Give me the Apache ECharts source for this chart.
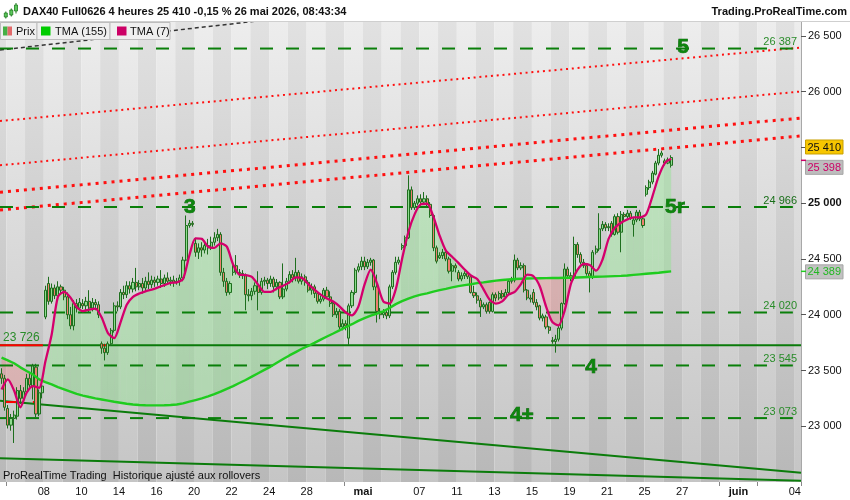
<!DOCTYPE html>
<html><head><meta charset="utf-8">
<script src="https://cdn.jsdelivr.net/npm/echarts@6/dist/echarts.min.js"></script>
<style>html,body{margin:0;padding:0;background:#fff}#c{width:850px;height:500px}</style>
</head><body><div id="c"></div>
<script>
// ---------- DATA ----------
const leadBars = 2;          // partial session before the first full day
const barsPerDay = 6;        // 4-hour bars per trading day
const totalSlots = 256;      // visible category slots on the time axis
const days = ['2 avr','7 avr','8 avr','9 avr','10 avr','13 avr','14 avr','15 avr','16 avr','17 avr','20 avr','21 avr','22 avr','23 avr','24 avr','27 avr','28 avr','29 avr','30 avr','4 mai','5 mai','6 mai','7 mai','8 mai','11 mai','12 mai','13 mai','14 mai','15 mai','18 mai','19 mai','20 mai','21 mai','22 mai','25 mai','26 mai','27 mai','28 mai','29 mai','1 juin','2 juin','3 juin','4 juin'];
const dayTickLabels = ['','','08','','10','','14','','16','','20','','22','','24','','28','','','mai','','','07','','11','','13','','15','','19','','21','','25','','27','','','juin','','','04'];
const boldTickLabels = ['mai','juin'];
const tickDays = ['2 avr','30 avr','29 mai','2 juin'];

// candles: [open, close, low, high]
const ohlc = [
[23470,23430,23380,23520],[23430,23170,23140,23460],
[23160,23010,22980,23190],[23010,23070,22960,23110],[23070,23100,22850,23140],[23090,23320,23060,23350],[23320,23250,23200,23370],[23250,23310,23230,23350],
[23310,23430,23290,23470],[23430,23370,23330,23480],[23360,23540,23240,23560],[23530,23110,23080,23560],[23110,23300,23090,23330],[23300,23360,23250,23420],
[23980,24220,23960,24260],[24280,24120,24090,24340],[24120,24240,24100,24280],[24240,24170,24140,24270],[24170,24250,24150,24300],[24250,24220,24180,24270],
[24220,24160,24130,24250],[24160,24000,23960,24200],[24000,23900,23870,24070],[23900,24100,23860,24130],[24100,24060,24020,24140],[24060,24110,24040,24150],
[24100,24080,24050,24140],[24080,24120,24030,24160],[24120,24060,24020,24220],[24060,24110,24030,24150],[24110,24090,24040,24140],[24090,24000,23970,24120],
[23740,23700,23650,23760],[23700,23660,23590,23740],[23660,23740,23640,23760],[23740,23860,23720,23880],[23860,24080,23840,24110],[24080,24070,24030,24120],
[24070,24200,24050,24230],[24200,24180,24140,24260],[24180,24260,24150,24300],[24260,24230,24190,24300],[24230,24290,24200,24330],[24290,24250,24210,24420],
[24250,24280,24220,24310],[24280,24240,24190,24330],[24240,24300,24210,24340],[24300,24270,24230,24380],[24270,24310,24240,24350],[24310,24290,24250,24340],
[24290,24320,24260,24350],[24320,24280,24240,24400],[24280,24330,24250,24360],[24330,24300,24270,24380],[24300,24310,24260,24340],[24310,24290,24250,24350],
[24290,24300,24270,24330],[24300,24330,24260,24360],[24330,24490,24300,24520],[24490,24800,24480,24890],[24800,24820,24780,24850],[24820,24810,24790,24840],
[24640,24560,24520,24690],[24560,24600,24500,24640],[24600,24580,24520,24650],[24580,24620,24550,24660],[24620,24600,24540,24680],[24600,24650,24580,24700],
[24650,24690,24620,24740],[24690,24720,24660,24770],[24720,24380,24350,24740],[24380,24300,24250,24420],[24300,24200,24170,24330],[24200,24280,24180,24300],
[24380,24440,24350,24470],[24440,24380,24360,24535],[24380,24370,24330,24410],[24370,24350,24320,24400],[24350,24180,24040,24370],[24180,24170,24120,24230],
[24170,24210,24130,24240],[24210,24260,24180,24290],[24260,24200,24040,24390],[24200,24300,24180,24330],[24300,24310,24260,24340],[24310,24280,24230,24330],
[24280,24320,24250,24350],[24320,24250,24200,24340],[24250,24290,24220,24320],[24290,24160,24140,24300],[24160,24230,24140,24460],[24230,24300,24210,24330],
[24300,24360,24280,24390],[24360,24330,24290,24400],[24330,24380,24300,24510],[24380,24300,24280,24400],[24300,24340,24270,24370],[24340,24290,24260,24360],
[24290,24220,24200,24310],[24220,24250,24180,24280],[24250,24190,24150,24270],[24190,24120,24100,24210],[24120,24140,24100,24170],[24140,24220,24120,24240],
[24220,24160,24140,24250],[24160,24100,24070,24210],[24100,24000,23980,24120],[24000,24030,23970,24060],[24030,23890,23870,24050],[23890,23920,23860,23960],
[23920,23900,23860,23950],[23790,24080,23730,24100],[24080,24200,24060,24220],[24200,24400,24180,24420],[24400,24430,24380,24460],[24430,24480,24400,24520],
[24480,24430,24400,24520],[24430,24470,24410,24500],[24470,24490,24440,24510],[24490,24250,24220,24500],[24250,24030,23930,24360],[24030,24000,23960,24060],
[24000,24020,23970,24050],[24020,23990,23960,24050],[23990,24250,23970,24270],[24250,24380,24230,24400],[24380,24470,24360,24520],[24470,24490,24450,24520],
[24600,24620,24580,24640],[24620,24690,24600,24710],[24690,25120,24680,25250],[25120,24960,24940,25150],[24960,25000,24940,25020],[25000,25040,24980,25070],
[25040,25010,24980,25080],[25010,25040,24990,25100],[25040,24990,24960,25070],[24990,24890,24870,25010],[24890,24600,24570,24900],[24600,24480,24460,24620],
[24510,24530,24500,24560],[24530,24560,24500,24590],[24560,24500,24480,24580],[24500,24390,24370,24520],[24390,24440,24300,24460],[24440,24420,24380,24460],
[24380,24320,24300,24400],[24320,24350,24300,24380],[24350,24370,24320,24390],[24370,24340,24320,24380],[24340,24200,24190,24350],[24200,24170,24150,24260],
[24170,24130,24100,24200],[24130,24070,23980,24150],[24070,24090,24050,24110],[24090,24030,24010,24110],[24110,24030,24010,24120],[24030,24180,24020,24200],
[24180,24150,24120,24200],[24150,24190,24130,24210],[24190,24160,24140,24220],[24160,24200,24140,24230],[24200,24300,24180,24320],[24300,24310,24280,24340],
[24310,24490,24290,24540],[24490,24420,24400,24510],[24420,24440,24400,24470],[24440,24220,24200,24460],[24220,24150,24130,24230],[24150,24140,24110,24180],
[24200,24110,24090,24230],[24110,24070,24040,24140],[24080,23970,23950,24090],[23970,23990,23940,24010],[23980,23890,23870,24000],[23890,23860,23830,23900],
[23770,23760,23740,23800],[23760,23780,23660,23820],[23780,23880,23760,23900],[23880,24100,23860,24110],[24100,24410,24090,24460],[24410,24350,24330,24430],
[24350,24330,24300,24380],[24330,24630,24310,24700],[24630,24540,24510,24650],[24540,24470,24450,24560],[24470,24440,24420,24500],[24440,24370,24350,24460],
[24370,24340,24200,24390],[24340,24560,24320,24580],[24560,24590,24540,24620],[24590,24770,24570,24910],[24770,24810,24750,24840],[24810,24780,24750,24830],
[24780,24790,24750,24820],[24820,24720,24700,24840],[24720,24880,24710,24900],[24880,24740,24720,24910],[24740,24900,24560,24930],[24900,24880,24850,24920],
[24880,24910,24860,24940],[24910,24870,24850,24930],[24810,24850,24700,24870],[24850,24920,24830,24940],[24920,24860,24840,24940],[24860,24800,24780,24880],
[25080,25140,25060,25160],[25140,25190,25120,25210],[25190,25270,25170,25290],[25260,25360,25250,25380],[25360,25430,25340,25486],[25430,25450,25410,25470],
[25380,25360,25340,25400],[25360,25390,25350,25410],[25340,25410,25320,25430]
];

const tmaStep = 2; // TMA values read every 2 bars
const tma7 = [23330,23420,23320,23170,23300,23360,23345,23580,23820,24160,24205,24155,24070,24033,24045,24055,23975,23835,23790,23930,24090,24160,24190,24210,24225,24245,24265,24285,24290,24320,24530,24685,24680,24610,24600,24640,24610,24450,24360,24356,24340,24270,24205,24205,24235,24260,24290,24335,24330,24275,24225,24180,24145,24118,24075,24020,23995,24070,24270,24405,24280,24120,24100,24230,24500,24740,24900,24990,24995,24880,24710,24575,24520,24465,24405,24352,24320,24230,24135,24100,24120,24180,24205,24275,24360,24345,24255,24075,23935,23905,24040,24280,24400,24455,24445,24395,24490,24680,24780,24825,24855,24873,24873,24900,25060,25240,25360,25398];
const tma155 = [23615,23590,23565,23528,23495,23465,23420,23395,23375,23350,23330,23310,23290,23275,23262,23250,23240,23230,23220,23211,23202,23195,23190,23188,23187,23187,23188,23190,23195,23205,23220,23235,23250,23268,23288,23310,23335,23360,23388,23415,23445,23475,23505,23535,23570,23603,23635,23665,23695,23720,23748,23777,23805,23832,23860,23888,23915,23945,23970,23992,24010,24030,24060,24095,24122,24145,24165,24180,24192,24207,24220,24232,24245,24256,24265,24273,24283,24290,24298,24306,24312,24316,24320,24323,24325,24326,24327,24328,24329,24330,24331,24332,24334,24336,24338,24340,24342,24344,24346,24348,24352,24357,24362,24367,24372,24377,24383,24389];

const lastPrice = 25410;
const lastTma7 = 25398;
const lastTma155 = 24389;

const levels = [26387, 24966, 24020, 23545, 23073];
const supportLevel = 23726;
// trend lines: [value at left edge, value at right edge]
const redTrendsThin = [[25737, 26396], [25340, 26002]];
const redTrendsThick = [[25098, 25764], [24939, 25603]];
const greenTrends = [[23229, 22583], [22712, 22512]];
const blackTrend = [[0, 26374], [100, 26690]];
// red markers: [price, from slot, to slot]
const redMarks = [[23726, 0, 13.7], [23726, 32, 33.9], [23217, 1.6, 5.4], [23217, 10.5, 11.8]];

const waveText = ['5', '3', '5r', '4', '4+'];
const waveX = [218.3, 60.7, 215.7, 188.9, 166.8];
const waveY = [26396, 24961, 24966, 23531, 23095];

const yTickLabels = [23000, 23500, 24000, 24500, 25000, 26000, 26500];

// ---------- BUILD ----------
const F = "'Liberation Sans', Arial, Helvetica, sans-serif";
const fmt = v => { const s = String(Math.round(v)); return s.slice(0, s.length - 3) + ' ' + s.slice(-3); };
const dayStart = d => leadBars + barsPerDay * d;

const cats = [];
for (let s = 0; s < leadBars; s++) cats.push('1 avr#' + s);
days.forEach(d => { for (let s = 0; s < barsPerDay; s++) cats.push(d + '#' + s); });
cats.length = totalSlots;

const labelAt = {};
days.forEach((d, i) => { if (dayTickLabels[i]) labelAt[dayStart(i)] = dayTickLabels[i]; });
const tickAt = {};
tickDays.forEach(n => { tickAt[dayStart(days.indexOf(n))] = true; });

const bands = [[0, leadBars, 1]];
days.forEach((d, i) => { const s = dayStart(i); bands.push([s, Math.min(s + barsPerDay, totalSlots), i % 2]); });

const fillSegs = [];
for (let k = 0; k < tma7.length - 1; k++) {
  fillSegs.push([k * tmaStep + 0.5, tma7[k], tma155[k], (k + 1) * tmaStep + 0.5, tma7[k + 1], tma155[k + 1]]);
}

const gradLight = () => new echarts.graphic.LinearGradient(0, 0, 0, 1, [{offset: 0, color: '#ededed'}, {offset: 1, color: '#c5c5c5'}]);
const gradDark = () => new echarts.graphic.LinearGradient(0, 0, 0, 1, [{offset: 0, color: '#e1e1e1'}, {offset: 1, color: '#b8b8b8'}]);

const levelEnd = 253.4;
const series = [];

series.push({
  type: 'custom', xAxisIndex: 1, yAxisIndex: 0, silent: true, z: 0, clip: true,
  data: bands, encode: {x: [0, 1], y: 2},
  renderItem(params, api) {
    const cs = params.coordSys;
    const x0 = api.coord([api.value(0), 24000])[0];
    const x1 = api.coord([api.value(1), 24000])[0];
    return {type: 'rect', shape: {x: x0, y: cs.y, width: x1 - x0, height: cs.height},
      style: {fill: api.value(2) === 0 ? gradLight() : gradDark()}};
  }
});

series.push({
  type: 'custom', xAxisIndex: 1, yAxisIndex: 0, silent: true, z: 1, clip: true,
  data: fillSegs, encode: {x: [0, 3], y: [1, 2, 4, 5]},
  renderItem(params, api) {
    const x0 = api.value(0), a0 = api.value(1), b0 = api.value(2);
    const x1 = api.value(3), a1 = api.value(4), b1 = api.value(5);
    const G = 'rgba(140,228,140,0.42)', P = 'rgba(240,120,120,0.33)';
    const pt = (x, y) => api.coord([x, y]);
    const d0 = a0 - b0, d1 = a1 - b1;
    if (d0 * d1 >= 0) {
      return {type: 'polygon', shape: {points: [pt(x0, a0), pt(x1, a1), pt(x1, b1), pt(x0, b0)]},
        style: {fill: (d0 + d1) >= 0 ? G : P}};
    }
    const t = d0 / (d0 - d1), xc = x0 + (x1 - x0) * t, yc = a0 + (a1 - a0) * t;
    return {type: 'group', children: [
      {type: 'polygon', shape: {points: [pt(x0, a0), pt(xc, yc), pt(x0, b0)]}, style: {fill: d0 > 0 ? G : P}},
      {type: 'polygon', shape: {points: [pt(xc, yc), pt(x1, a1), pt(x1, b1)]}, style: {fill: d1 > 0 ? G : P}}
    ]};
  }
});

const lineSeries = (data, style, z) => ({
  type: 'line', xAxisIndex: 1, yAxisIndex: 0, data, symbol: 'none', silent: true, z: z || 2,
  lineStyle: style, animation: false
});

redTrendsThin.forEach(t => series.push(lineSeries([[0, t[0]], [totalSlots, t[1]]], {color: '#ff1010', width: 2, type: [2, 3.8], cap: 'butt'})));
redTrendsThick.forEach(t => series.push(lineSeries([[0, t[0]], [totalSlots, t[1]]], {color: '#ff1010', width: 3, type: [3, 5], cap: 'butt'})));
greenTrends.forEach(t => series.push(lineSeries([[0, t[0]], [totalSlots, t[1]]], {color: '#0b7c0b', width: 2})));
series.push(lineSeries(blackTrend, {color: '#333333', width: 1.5, type: [4, 3]}));
levels.forEach(v => series.push(lineSeries([[0, v], [levelEnd, v]], {color: '#0a7f0a', width: 2, type: [13, 13], cap: 'butt'})));
series.push(lineSeries([[0, supportLevel], [totalSlots, supportLevel]], {color: '#0a7a0a', width: 2}));
redMarks.forEach(m => series.push(lineSeries([[m[1], m[0]], [m[2], m[0]]], {color: '#ff0000', width: 2}, 3)));

series.push({
  type: 'candlestick', xAxisIndex: 0, yAxisIndex: 0, data: ohlc, barWidth: 2.6, z: 4, silent: true,
  itemStyle: {color: '#8fdc8f', color0: '#ee7f6f', borderColor: '#1e6e1e', borderColor0: '#1e6e1e', borderWidth: 1}
});

series.push(lineSeries(tma155.map((v, k) => [k * tmaStep + 0.5, v]), {color: '#1fcc1f', width: 2.4}, 5));
series.push(Object.assign(lineSeries(tma7.map((v, k) => [k * tmaStep + 0.5, v]), {color: '#d4006c', width: 2.3}, 6), {smooth: 0.25}));

const chart = echarts.init(document.getElementById('c'), null, {renderer: 'canvas'});
chart.setOption({
  animation: false,
  backgroundColor: '#ffffff',
  grid: {left: 0, right: 49, top: 22, bottom: 18, containLabel: false},
  xAxis: [{
    type: 'category', data: cats, boundaryGap: true,
    axisLine: {show: false, onZero: false},
    axisTick: {show: true, interval: i => !!tickAt[i], length: 4, lineStyle: {color: '#888'}},
    axisLabel: {
      interval: i => !!labelAt[i], margin: 4,
      formatter: (v, i) => { const l = labelAt[i] || ''; return boldTickLabels.includes(l) ? '{m|' + l + '}' : '{n|' + l + '}'; },
      rich: {
        n: {fontSize: 11, fontFamily: F, color: '#111', padding: [0, 3, 0, 0]},
        m: {fontSize: 11, fontFamily: F, color: '#111', fontWeight: 'bold', padding: [0, 3, 0, 0]}
      }
    },
    splitLine: {show: false}
  }, {
    type: 'value', min: 0, max: totalSlots, show: false
  }],
  yAxis: {
    type: 'value', position: 'right', min: 22500, max: 26625, interval: 500,
    splitLine: {show: false},
    axisLine: {show: true, onZero: false, lineStyle: {color: '#a8a8a8', width: 1}},
    axisTick: {show: true, length: 5, lineStyle: {color: '#555'}},
    axisLabel: {
      margin: 7, fontSize: 11, fontFamily: F, color: '#111', showMaxLabel: false, showMinLabel: false,
      formatter: v => { if (!yTickLabels.includes(v)) return ''; const s = fmt(v); return v === 25000 ? '{b|' + s + '}' : s; },
      rich: {b: {fontSize: 11, fontFamily: F, color: '#111', fontWeight: 'bold'}}
    }
  },
  series
});

// ---------- OVERLAY TEXT / MARKERS ----------
const py = v => chart.convertToPixel({yAxisIndex: 0}, v);
const pxy = (x, y) => chart.convertToPixel({xAxisIndex: 1, yAxisIndex: 0}, [x, y]);
const txt = (text, x, y, opt) => Object.assign({
  type: 'text', x, y, z: 100, silent: true,
  style: Object.assign({text, fill: '#111', font: '11px ' + F, textAlign: 'left', textVerticalAlign: 'middle', align: 'left', verticalAlign: 'middle'}, opt || {})
});
const g = [];
// header
g.push({type: 'rect', shape: {x: 0, y: 0, width: 850, height: 22}, style: {fill: '#fff'}, z: 90, silent: true});
g.push({type: 'line', shape: {x1: 0, y1: 21.5, x2: 850, y2: 21.5}, style: {stroke: '#cfcfcf', lineWidth: 1}, z: 91, silent: true});
[[5.8, 11.5, 18.5, 13, 17], [11.3, 8.5, 16.5, 10, 15], [16, 3, 13.5, 5, 11]].forEach(c => {
  g.push({type: 'line', shape: {x1: c[0], y1: c[1], x2: c[0], y2: c[2]}, style: {stroke: '#1e7a1e', lineWidth: 1}, z: 92, silent: true});
  g.push({type: 'rect', shape: {x: c[0] - 1.5, y: c[3], width: 3, height: c[4] - c[3]}, style: {fill: '#5cc85c', stroke: '#1e7a1e', lineWidth: 0.8}, z: 93, silent: true});
});
g.push(txt('DAX40 Full0626 4 heures 25 410 -0,15 % 26 mai 2026, 08:43:34', 23, 12, {font: 'bold 11px ' + F}));
g.push(txt('Trading.ProRealTime.com', 847, 12, {font: 'bold 11px ' + F, textAlign: 'right', align: 'right'}));
// legend boxes
[[0.5, 36.5], [37, 73], [110, 60]].forEach(b => g.push({type: 'rect', shape: {x: b[0], y: 22.5, width: b[1], height: 17}, style: {fill: '#efefef', stroke: '#bdbdbd', lineWidth: 1}, z: 94, silent: true}));
g.push({type: 'rect', shape: {x: 3, y: 26.5, width: 4.5, height: 9}, style: {fill: '#45b045'}, z: 95, silent: true});
g.push({type: 'rect', shape: {x: 7.5, y: 26.5, width: 4.5, height: 9}, style: {fill: '#e26a6a'}, z: 95, silent: true});
g.push(txt('Prix', 16, 31.5));
g.push({type: 'rect', shape: {x: 41, y: 26.5, width: 9.5, height: 9}, style: {fill: '#00cc00'}, z: 95, silent: true});
g.push(txt('TMA (155)', 55, 31.5));
g.push({type: 'rect', shape: {x: 117, y: 26.5, width: 9.5, height: 9}, style: {fill: '#cc0066'}, z: 95, silent: true});
g.push(txt('TMA (7)', 130, 31.5));
// bottom note
g.push(txt('ProRealTime Trading  Historique ajusté aux rollovers', 3, 476));
// wave labels
waveText.forEach((t, i) => {
  const p = pxy(waveX[i], waveY[i]);
  g.push(txt(t, p[0], p[1], {font: 'bold 21px ' + F, fill: '#0e850e', stroke: '#0a5f0a', lineWidth: 0.7, textAlign: 'center', align: 'center'}));
});
// level labels
levels.forEach(v => g.push(txt(fmt(v), 797, py(v) - 6.5, {fill: v === 24966 ? '#186e18' : '#2a8c2a', textAlign: 'right', align: 'right'})));
g.push(txt(fmt(supportLevel), 3, py(supportLevel) - 7.5, {fill: '#2a8c2a', font: '12px ' + F}));
// right-side value boxes
const box = (val, cy, fill, stroke, color) => {
  g.push({type: 'rect', shape: {x: 805.5, y: cy - 7, width: 37.5, height: 14}, style: {fill, stroke, lineWidth: 1}, z: 96, silent: true});
  g.push(txt(fmt(val), 824.2, cy + 0.5, {fill: color, textAlign: 'center', align: 'center'}));
};
box(lastPrice, py(lastPrice) - 10.5, '#f7c600', '#c8a000', '#111');
box(lastTma7, py(lastTma7) + 8.5, '#bdbdbd', '#a5a5a5', '#cc0066');
box(lastTma155, py(lastTma155) + 0.5, '#c2c2c2', '#a5a5a5', '#22b822');
g.push({type: 'line', shape: {x1: 801, y1: py(lastTma7) + 1.5, x2: 806, y2: py(lastTma7) + 1.5}, style: {stroke: '#cc0066', lineWidth: 1.5}, z: 96, silent: true});
g.push({type: 'line', shape: {x1: 801, y1: py(lastTma155), x2: 806, y2: py(lastTma155)}, style: {stroke: '#22cc22', lineWidth: 1.5}, z: 96, silent: true});
chart.setOption({graphic: {elements: g}});
</script>
</body></html>
